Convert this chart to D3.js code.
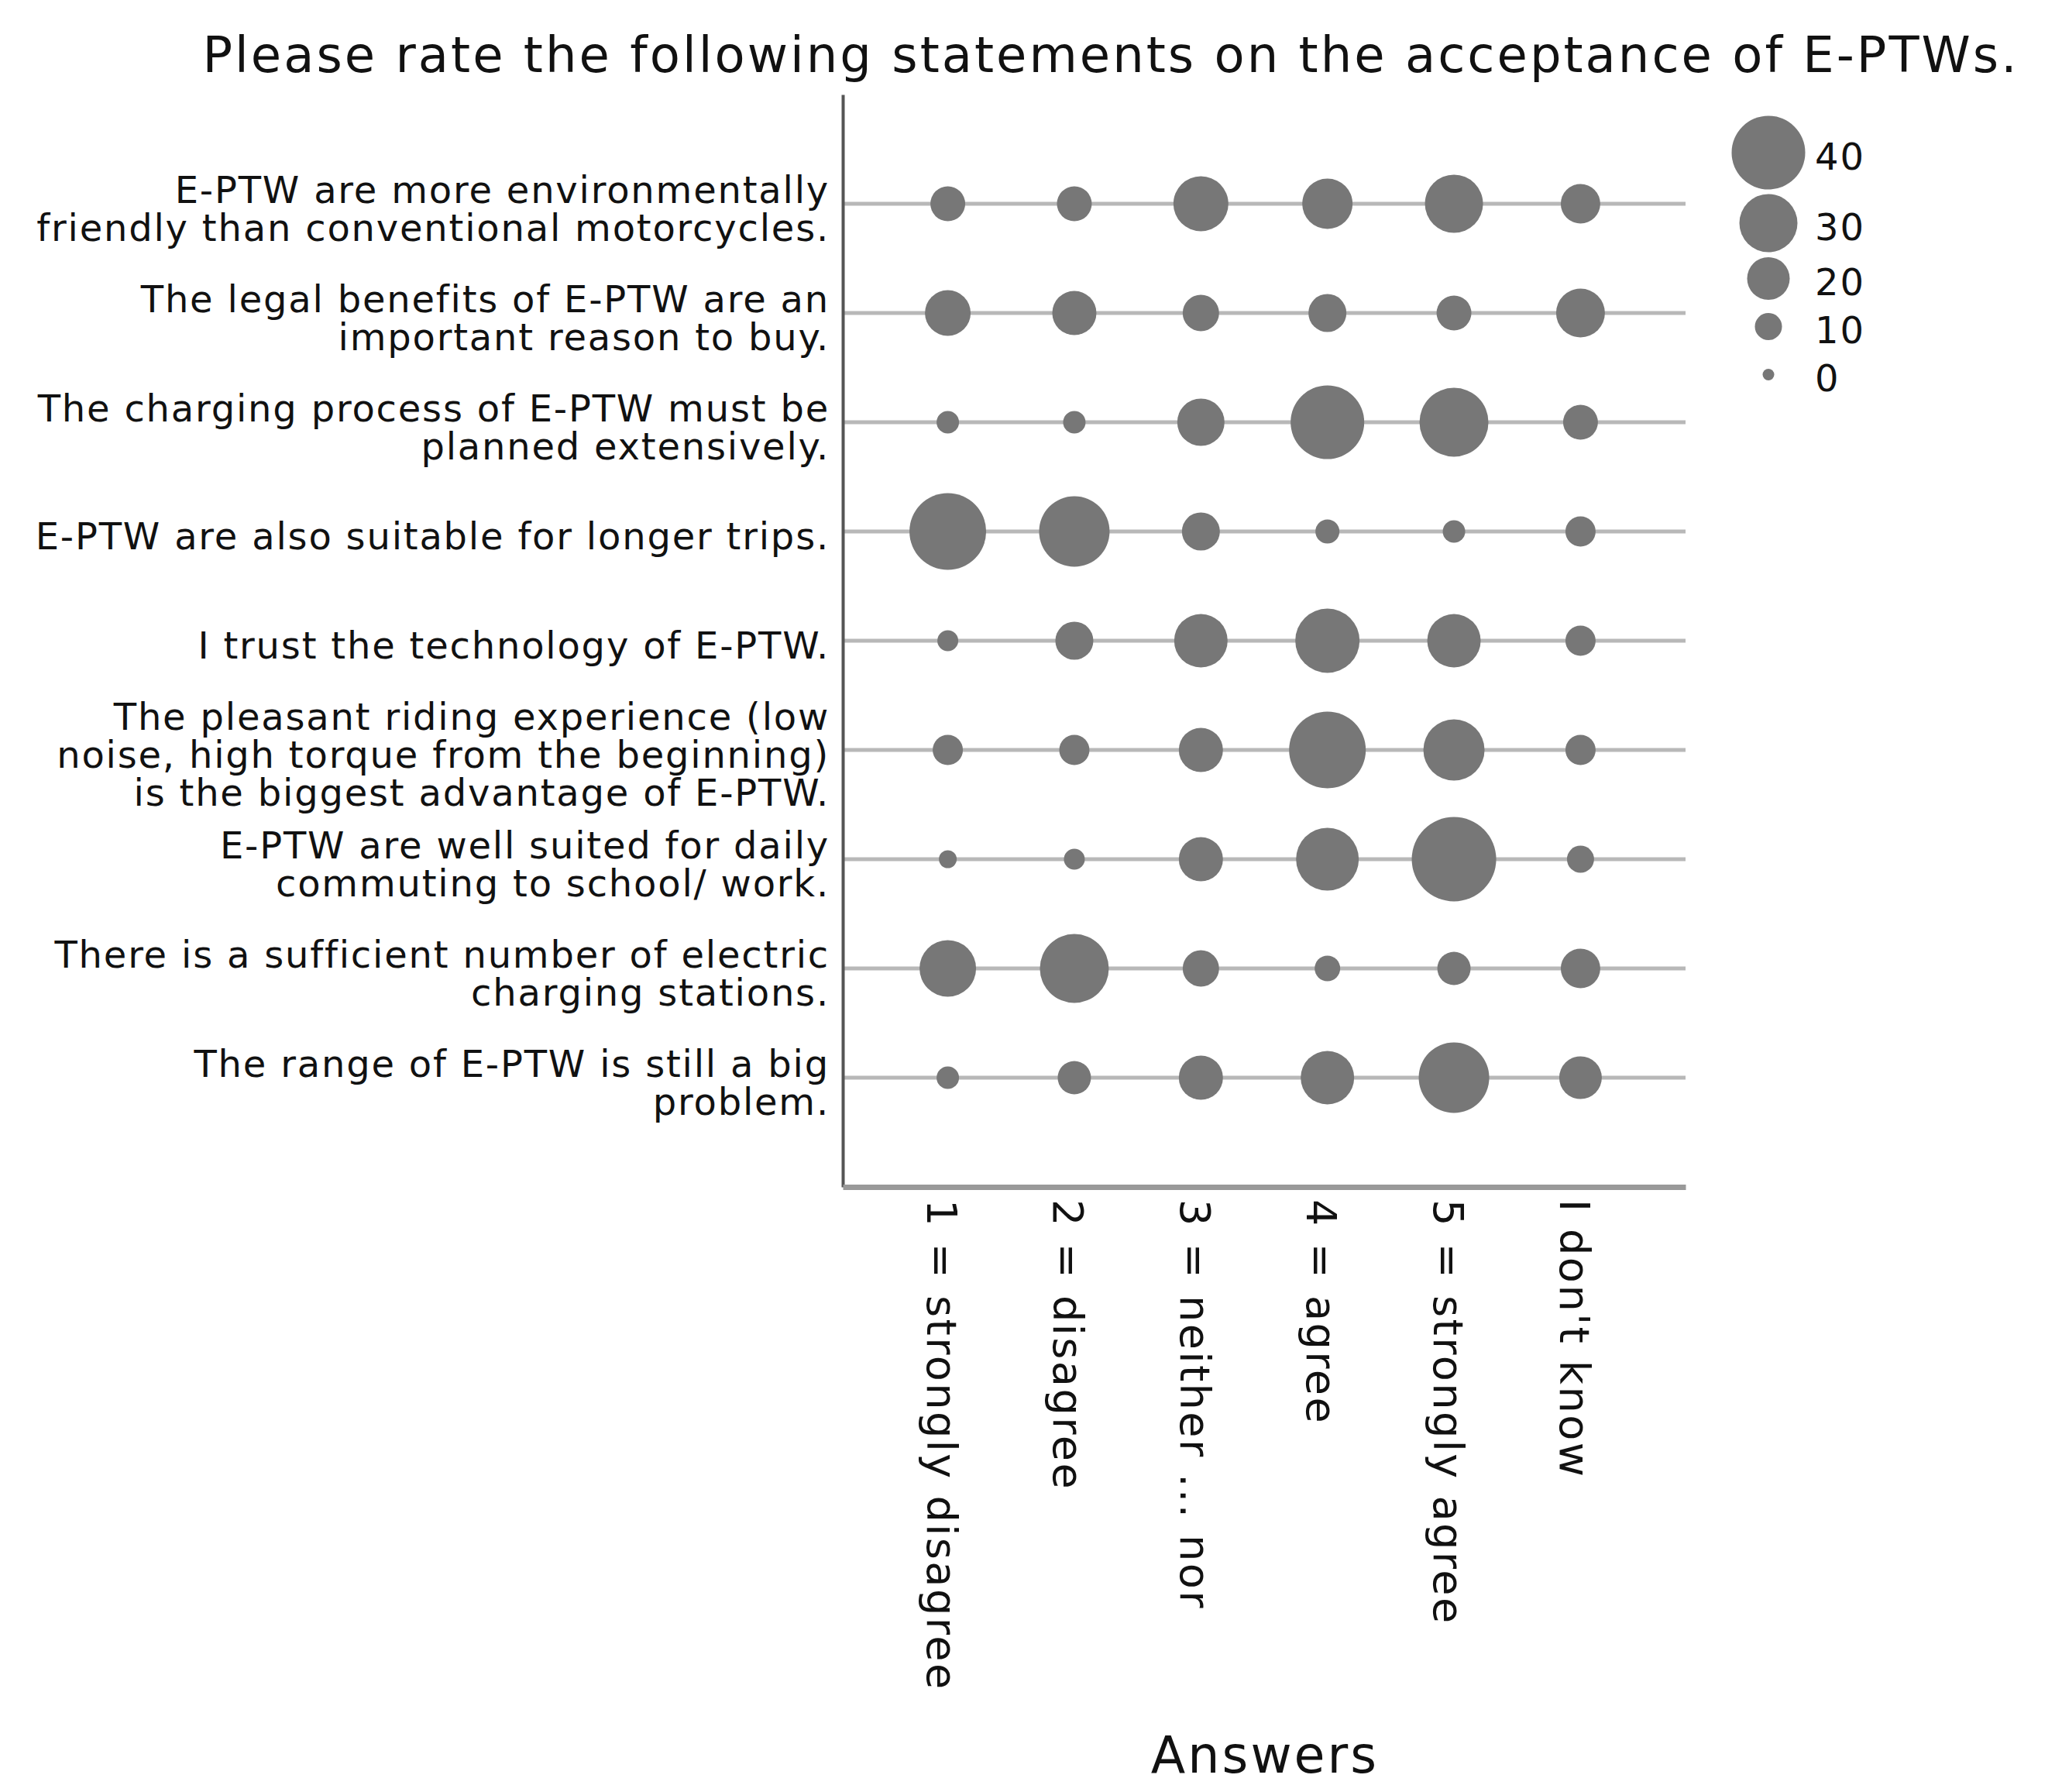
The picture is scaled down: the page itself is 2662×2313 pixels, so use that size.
<!DOCTYPE html>
<html>
<head>
<meta charset="utf-8">
<script src="https://cdn.jsdelivr.net/npm/d3@7"></script>
<style>
  body { margin: 0; background: #fff; }
  text { font-family: "DejaVu Sans", sans-serif; fill: #111; }
</style>
</head>
<body>
<script>
// statements (line breaks as in the original figure)
var statements = [
  "E-PTW are more environmentally\nfriendly than conventional motorcycles.",
  "The legal benefits of E-PTW are an\nimportant reason to buy.",
  "The charging process of E-PTW must be\nplanned extensively.",
  "E-PTW are also suitable for longer trips.",
  "I trust the technology of E-PTW.",
  "The pleasant riding experience (low\nnoise, high torque from the beginning)\nis the biggest advantage of E-PTW.",
  "E-PTW are well suited for daily\ncommuting to school/ work.",
  "There is a sufficient number of electric\ncharging stations.",
  "The range of E-PTW is still a big\nproblem."
];
var answers = ["1 = strongly disagree", "2 = disagree", "3 = neither ... nor", "4 = agree", "5 = strongly agree", "I don't know"];

// number of answers per statement, in the order of answers
var counts = [
  [15, 15, 28, 25, 30, 18],
  [22, 21, 16, 17, 15, 24],
  [7, 7, 23, 40, 37, 15],
  [42, 38, 17, 8, 7, 12],
  [6, 17, 27, 34, 27, 12],
  [12, 12, 21, 42, 32, 12],
  [4, 6, 21, 33, 47, 10],
  [29, 37, 16, 9, 14, 18],
  [7, 14, 21, 27, 38, 20]
];
var legendValues = [40, 30, 20, 10, 0];

var title = "Please rate the following statements on the acceptance of E-PTWs.";
var xTitle = "Answers";

var svg = d3.select("body").append("svg").attr("width", 2662).attr("height", 2313);

var x = d3.scalePoint().domain(answers).range([1088, 2176]).padding(0.83);
var y = d3.scalePoint().domain(statements).range([122, 1532]).padding(1);
var r = d3.scaleLinear().domain([0, 40]).range([7.5, 47.5]);

var points = [];
statements.forEach(function(s, i) {
  answers.forEach(function(a, j) { points.push({s: s, a: a, v: counts[i][j]}); });
});

// row lines
svg.append("g").selectAll("line").data(statements).join("line")
  .attr("x1", x.range()[0]).attr("x2", x.range()[1])
  .attr("y1", d => y(d)).attr("y2", d => y(d))
  .attr("stroke", "#b8b8b8").attr("stroke-width", 5);

// y axis with wrapped labels
var yAxis = svg.append("g").attr("transform", "translate(1088,0)")
  .call(d3.axisLeft(y).tickSize(0).tickPadding(17))
  .attr("font-family", null).attr("font-size", null);
yAxis.select(".domain").attr("stroke", "#555").attr("stroke-width", 4);
yAxis.selectAll(".tick text").each(function(d) {
  var lines = d.split("\n");
  var t = d3.select(this).text(null).attr("dy", null).attr("fill", "#111")
    .style("font-size", "48px").style("letter-spacing", "1.8px");
  lines.forEach(function(l, i) {
    t.append("tspan").attr("x", -17)
      .attr("y", (i - (lines.length - 1) / 2) * 49 + 6)
      .attr("dy", "0.35em").text(l);
  });
});

// x axis with rotated labels
var xAxis = svg.append("g").attr("transform", "translate(0,1532)")
  .call(d3.axisBottom(x).tickSize(0))
  .attr("font-family", null).attr("font-size", null);
xAxis.select(".domain").attr("stroke", "#999").attr("stroke-width", 7);
xAxis.selectAll(".tick text")
  .attr("transform", "rotate(90)")
  .attr("text-anchor", "start")
  .attr("x", 16).attr("y", 0).attr("dy", "0.5em")
  .attr("fill", "#111").style("font-size", "54px").style("letter-spacing", "2.5px");

// bubbles
svg.append("g").selectAll("circle").data(points).join("circle")
  .attr("cx", d => x(d.a)).attr("cy", d => y(d.s))
  .attr("r", d => r(d.v)).attr("fill", "#777");

// size legend
var lg = svg.append("g").attr("transform", "translate(2283,0)");
var ly = 197, legendPos = [];
legendValues.forEach(function(v, i) {
  if (i > 0) ly += (Math.max(2 * r(legendValues[i - 1]), 56) + Math.max(2 * r(v), 56)) / 2 + 6;
  legendPos.push(ly);
});
lg.selectAll("circle").data(legendValues).join("circle")
  .attr("cy", (d, i) => legendPos[i]).attr("r", d => r(d)).attr("fill", "#777");
lg.selectAll("text").data(legendValues).join("text")
  .attr("x", 60).attr("y", (d, i) => legendPos[i] + 5).attr("dy", "0.35em")
  .style("font-size", "48px").style("letter-spacing", "2px").text(d => d);

// titles
svg.append("text").attr("x", 1434).attr("y", 93).attr("text-anchor", "middle")
  .style("font-size", "64px").style("letter-spacing", "3px").text(title);
svg.append("text").attr("x", 1633).attr("y", 2288).attr("text-anchor", "middle")
  .style("font-size", "65px").style("letter-spacing", "3px").text(xTitle);
</script>
</body>
</html>
